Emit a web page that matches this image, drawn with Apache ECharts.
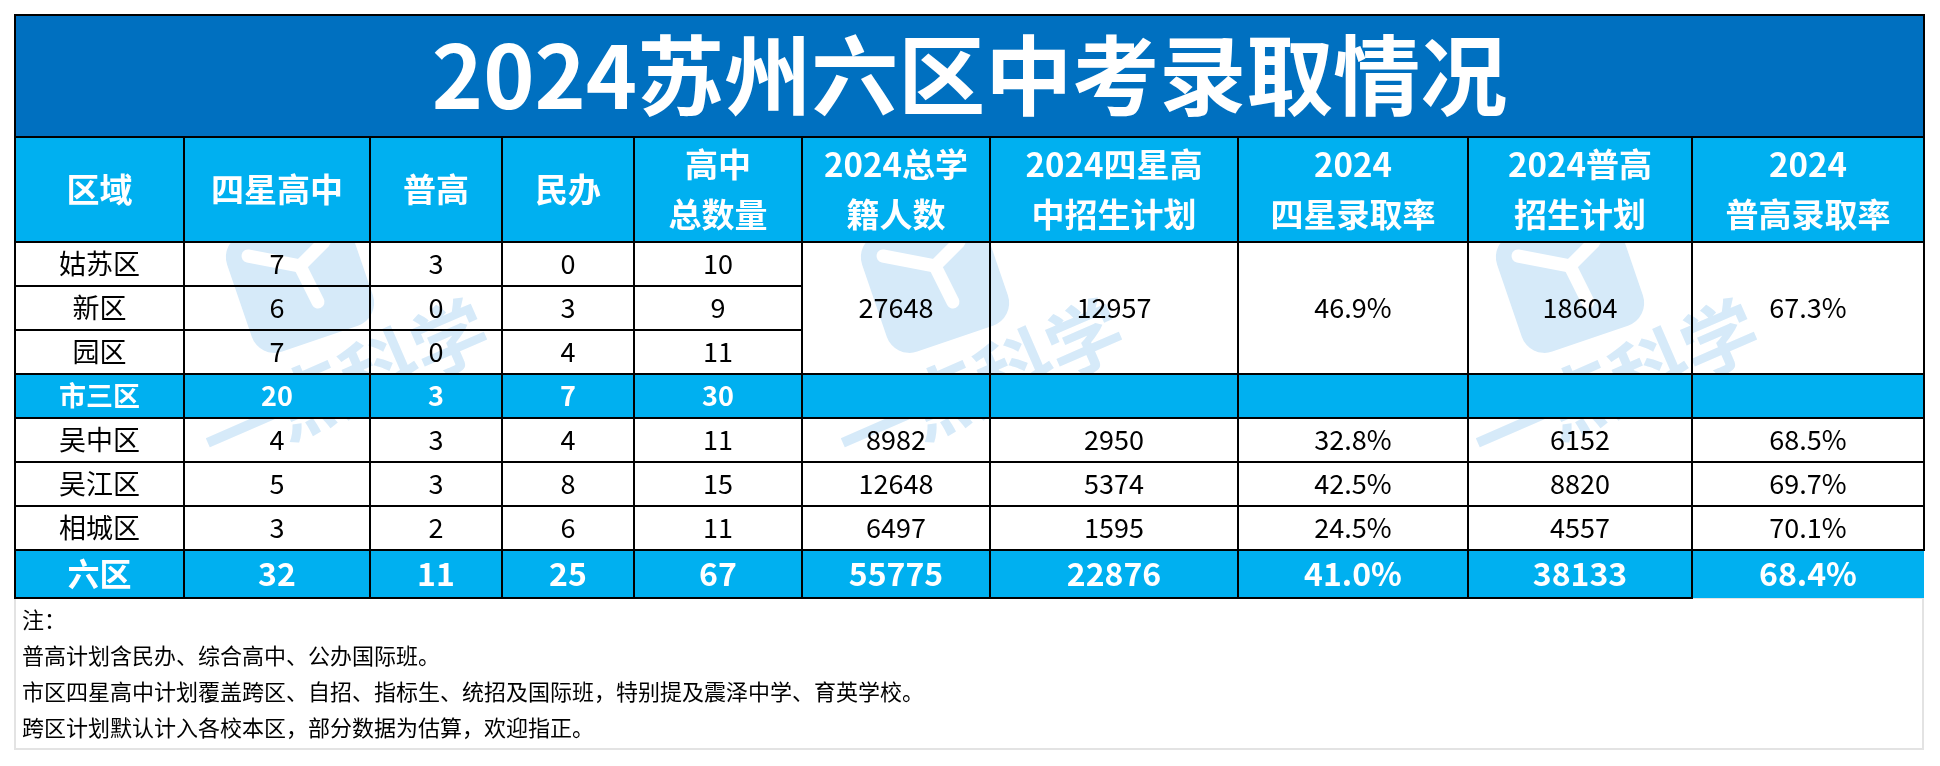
<!DOCTYPE html>
<html>
<head>
<meta charset="utf-8">
<script src="https://cdn.jsdelivr.net/npm/echarts@6/dist/echarts.min.js"></script>
<style>html,body{margin:0;padding:0;background:#fff;}#c{width:1940px;height:766px;}</style>
</head>
<body>
<div id="c"></div>
<script>
// ---------- DATA ----------
const title = '2024苏州六区中考录取情况';
const headers = ['区域', '四星高中', '普高', '民办', '高中\n总数量', '2024总学\n籍人数', '2024四星高\n中招生计划', '2024\n四星录取率', '2024普高\n招生计划', '2024\n普高录取率'];
const districts = ['姑苏区', '新区', '园区', '市三区', '吴中区', '吴江区', '相城区', '六区'];
const fourStarSchools = [7, 6, 7, 20, 4, 5, 3, 32];
const regularSchools = [3, 0, 0, 3, 3, 3, 2, 11];
const privateSchools = [0, 3, 4, 7, 4, 8, 6, 25];
const totalSchools = [10, 9, 11, 30, 11, 15, 11, 67];
// null = merged into the cell above, '' = empty cell
const enrolledStudents = [27648, null, null, '', 8982, 12648, 6497, 55775];
const fourStarPlan = [12957, null, null, '', 2950, 5374, 1595, 22876];
const fourStarRate = ['46.9%', null, null, '', '32.8%', '42.5%', '24.5%', '41.0%'];
const regularPlan = [18604, null, null, '', 6152, 8820, 4557, 38133];
const regularRate = ['67.3%', null, null, '', '68.5%', '69.7%', '70.1%', '68.4%'];
const notes = [
  '注：',
  '普高计划含民办、综合高中、公办国际班。',
  '市区四星高中计划覆盖跨区、自招、指标生、统招及国际班，特别提及震泽中学、育英学校。',
  '跨区计划默认计入各校本区，部分数据为估算，欢迎指正。'
];

// ---------- LAYOUT / STYLE ----------
const colEdges = [15, 184, 370, 502, 634, 802, 990, 1238, 1468, 1692, 1924];
const rowEdges = [15, 137, 242, 286, 330, 374, 418, 462, 506, 550, 598];
const subtotalRow = 3, totalRow = 7;
const FONT = '"Noto Sans CJK SC", "Noto Sans", sans-serif';
const DARK = '#0070C0', LIGHT = '#00B0F0';

const columns = [districts, fourStarSchools, regularSchools, privateSchools, totalSchools,
  enrolledStudents, fourStarPlan, fourStarRate, regularPlan, regularRate];

const cells = [];
cells.push({ value: [0, 10, 0, 1], text: title, kind: 'title' });
headers.forEach((h, c) => cells.push({ value: [c, c + 1, 1, 2], text: h, kind: 'header' }));
districts.forEach((d, r) => {
  columns.forEach((col, c) => {
    const v = col[r];
    if (v === null) return;
    let span = 1;
    while (r + span < col.length && col[r + span] === null) span++;
    let kind = 'body';
    if (r === subtotalRow) kind = 'sub';
    if (r === totalRow) kind = 'total';
    const noBorder = (r === totalRow && c === columns.length - 1);
    cells.push({ value: [c, c + 1, r + 2, r + 2 + span], text: String(v), kind, noBorder });
  });
});

const styles = {
  title: { fill: DARK, color: '#fff', font: 'bold 87px ' + FONT },
  header: { fill: LIGHT, color: '#fff', font: 'bold 33px ' + FONT, lineHeight: 50 },
  body: { fill: null, color: '#000', font: '27px ' + FONT },
  sub: { fill: LIGHT, color: '#fff', font: 'bold 27px ' + FONT },
  total: { fill: LIGHT, color: '#fff', font: 'bold 32px ' + FONT }
};

function rectOf(api, v) {
  const p0 = api.coord([colEdges[v[0]], rowEdges[v[2]]]);
  const p1 = api.coord([colEdges[v[1]], rowEdges[v[3]]]);
  return { x: p0[0], y: p0[1], width: p1[0] - p0[0], height: p1[1] - p0[1] };
}

// watermark
const wmColor = '#d6eaf9';
const wmCenters = [[300, 280], [935, 280], [1570, 280]];
const graphics = [];
wmCenters.forEach(([cx, cy]) => {
  graphics.push({
    type: 'rect', x: cx, y: cy, rotation: 0.33, z: 1, silent: true,
    shape: { x: -64, y: -62, width: 128, height: 124, r: 24 }, style: { fill: wmColor }
  });
  graphics.push({
    type: 'polyline', x: cx, y: cy, z: 1, silent: true,
    shape: { points: [[-52, -24], [0, -14], [24, -38]] },
    style: { stroke: '#fff', lineWidth: 13, fill: null, lineCap: 'round', lineJoin: 'round' }
  });
  graphics.push({
    type: 'line', x: cx, y: cy, z: 1, silent: true,
    shape: { x1: 0, y1: -14, x2: 18, y2: 22 },
    style: { stroke: '#fff', lineWidth: 13, lineCap: 'round' }
  });
  graphics.push({
    type: 'text', x: cx + 45, y: cy + 104, rotation: 0.41, z: 1, silent: true,
    style: { text: '一点科学', font: 'bold 76px ' + FONT, fill: wmColor, align: 'center', verticalAlign: 'middle' }
  });
});
// notes frame
graphics.push({
  type: 'rect', z: 1, silent: true,
  shape: { x: 15, y: 598, width: 1908, height: 151 },
  style: { fill: null, stroke: '#e3e3e3', lineWidth: 2 }
});
notes.forEach((t, i) => {
  graphics.push({
    type: 'text', x: 22, y: 620 + i * 36, z: 5, silent: true,
    style: { text: t, font: '22px ' + FONT, fill: '#000', verticalAlign: 'middle' }
  });
});

const chart = echarts.init(document.getElementById('c'), null, { renderer: 'canvas' });
chart.setOption({
  backgroundColor: '#fff',
  animation: false,
  grid: { left: 0, right: 0, top: 0, bottom: 0 },
  xAxis: { type: 'value', min: 0, max: 1940, show: false },
  yAxis: { type: 'value', min: 0, max: 766, inverse: true, show: false },
  graphic: graphics,
  series: [
    {
      type: 'custom', z: 2, clip: false, silent: true,
      data: cells,
      renderItem: (params, api) => {
        const cell = cells[params.dataIndex];
        const st = styles[cell.kind];
        if (!st.fill) return { type: 'group', children: [] };
        const r = rectOf(api, cell.value);
        return { type: 'rect', shape: r, style: { fill: st.fill } };
      }
    },
    {
      type: 'custom', z: 3, clip: false, silent: true,
      data: cells,
      renderItem: (params, api) => {
        const cell = cells[params.dataIndex];
        const st = styles[cell.kind];
        const r = rectOf(api, cell.value);
        const children = [];
        if (!cell.noBorder) {
          children.push({ type: 'rect', shape: r, style: { fill: null, stroke: '#000', lineWidth: 2 } });
        }
        children.push({
          type: 'text',
          style: {
            text: cell.text, x: r.x + r.width / 2, y: r.y + r.height / 2,
            align: 'center', verticalAlign: 'middle', font: st.font, fill: st.color,
            lineHeight: st.lineHeight
          }
        });
        return { type: 'group', children };
      }
    }
  ]
});
</script>
</body>
</html>
